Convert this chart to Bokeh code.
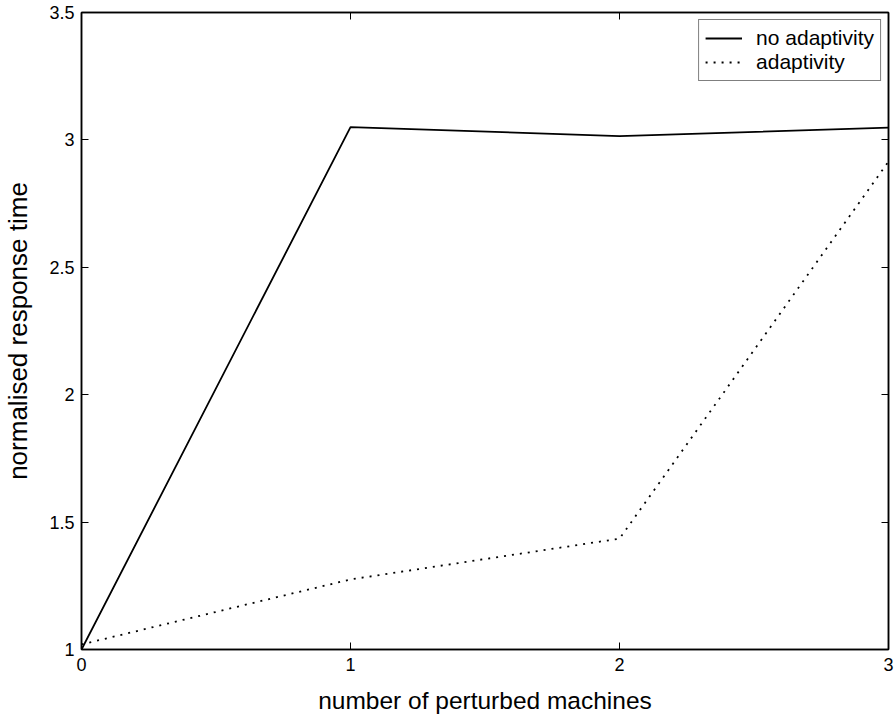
from bokeh.plotting import figure
from bokeh.models import (Range1d, FixedTicker, NumeralTickFormatter, LinearAxis,
                          Legend, LegendItem)
from bokeh.embed import file_html
from bokeh.resources import INLINE

# Normalised response time vs. number of perturbed machines
machines = [0, 1, 2, 3]
no_adaptivity = [1.0, 3.05, 3.015, 3.048]
adaptivity = [1.02, 1.275, 1.435, 2.915]

x_ticks = [0, 1, 2, 3]
y_ticks = [1, 1.5, 2, 2.5, 3, 3.5]

FONT = "Liberation Sans"

p = figure(width=894, height=718, output_backend="svg", toolbar_location=None,
           x_range=Range1d(0, 3), y_range=Range1d(1, 3.5),
           min_border_left=79, min_border_right=6, min_border_top=12, min_border_bottom=69)

p.xgrid.visible = False
p.ygrid.visible = False
p.background_fill_color = "white"
p.border_fill_color = "white"
p.outline_line_color = "black"
p.outline_line_width = 1.5

def style_axis(ax, ticks, show_labels=True):
    ax.ticker = FixedTicker(ticks=ticks)
    ax.formatter = NumeralTickFormatter(format="0.[0]")
    ax.major_tick_in = 7
    ax.major_tick_out = 0
    ax.minor_tick_line_color = None
    ax.major_tick_line_color = "black"
    ax.major_tick_line_width = 1
    ax.axis_line_color = "black"
    ax.axis_line_width = 1.5
    ax.major_label_text_font = FONT
    ax.major_label_text_color = "black"
    ax.axis_label_text_font = FONT
    ax.axis_label_text_font_style = "normal"
    ax.axis_label_text_color = "black"
    if show_labels:
        ax.major_label_text_font_size = "18px"
    else:
        # tick marks only, no numbers
        ax.major_label_text_color = None
        ax.major_label_text_font_size = "1px"
        ax.major_label_standoff = 0

xa = p.xaxis[0]
ya = p.yaxis[0]
style_axis(xa, x_ticks)
style_axis(ya, y_ticks)
xa.axis_label = "number of perturbed machines"
ya.axis_label = "normalised response time"
xa.axis_label_text_font_size = "24.5px"
ya.axis_label_text_font_size = "26px"
xa.major_label_standoff = 8
xa.axis_label_standoff = 13
ya.major_label_standoff = 7
ya.axis_label_standoff = 13

# mirrored ticks on the top and right edges of the box
top_ax = LinearAxis()
style_axis(top_ax, x_ticks, show_labels=False)
p.add_layout(top_ax, "above")
right_ax = LinearAxis()
style_axis(right_ax, y_ticks, show_labels=False)
p.add_layout(right_ax, "right")

r1 = p.line(machines, no_adaptivity, line_color="black", line_width=1.8)
r2 = p.line(machines, adaptivity, line_color="black", line_width=1.8, line_dash="2 6")

legend = Legend(items=[LegendItem(label="no adaptivity", renderers=[r1]),
                       LegendItem(label="adaptivity", renderers=[r2])],
                location="top_right")
legend.margin = 7
legend.padding = 6
legend.spacing = 0
legend.glyph_width = 37
legend.glyph_height = 20
legend.label_height = 20
legend.label_standoff = 14
legend.label_text_font = FONT
legend.label_text_font_size = "21px"
legend.label_text_line_height = 0.9
legend.label_text_color = "black"
legend.border_line_color = "black"
legend.border_line_width = 1
legend.background_fill_color = "white"
legend.background_fill_alpha = 1
p.add_layout(legend, "center")

open("out.html", "w").write(file_html(p, INLINE))
